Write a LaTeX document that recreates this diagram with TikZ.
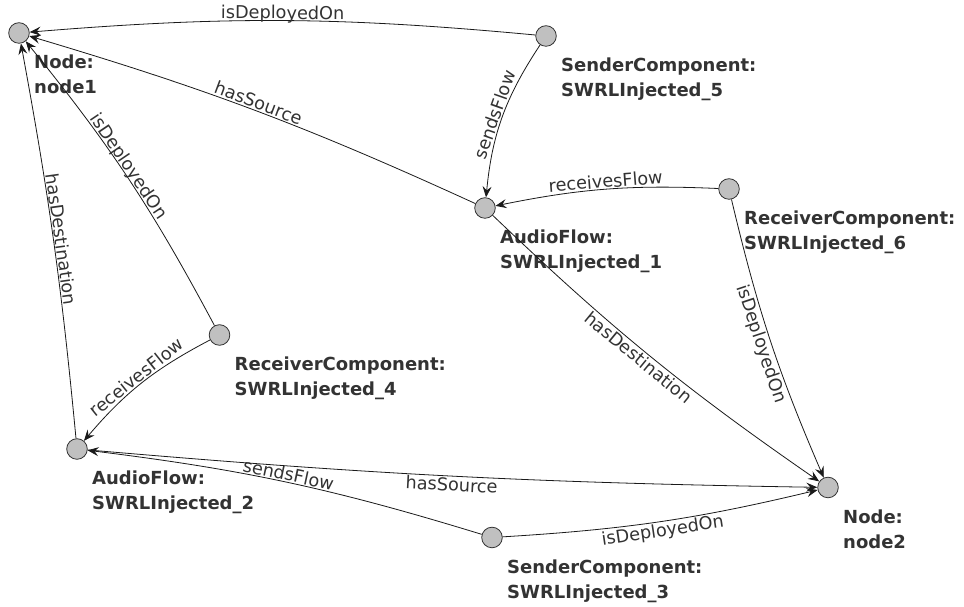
\documentclass[tikz,border=0pt]{standalone}
\usepackage{fontspec}
\setmainfont{DejaVu Sans}
\usetikzlibrary{arrows.meta}
\definecolor{txtgray}{HTML}{333333}
\definecolor{dotgray}{HTML}{C0C0C0}
\definecolor{linegray}{HTML}{1A1A1A}
\begin{document}
\begin{tikzpicture}[x=1pt,y=1pt,
  dot/.style={circle, minimum size=20.6pt, inner sep=0pt, fill=dotgray, draw=txtgray, line width=0.8pt},
  ttl/.style={anchor=north west, inner sep=0pt, align=left, text=txtgray, font=\bfseries\fontsize{18}{25}\selectfont},
  rel/.style={draw=linegray, line width=0.8pt, -{Stealth[length=11pt,width=9pt,inset=4pt]}},
  elbl/.style={sloped, inner sep=1.2pt, text=txtgray, font=\fontsize{17.7}{20}\selectfont},
  ab/.style={elbl, above, text depth=0pt},
  bl/.style={elbl, below}
]
\fill[white] (0,0) rectangle (964,607);
\useasboundingbox (0,0) rectangle (964,607);

% nodes
\node[dot] (n1)  at (19,574) {};
\node[dot] (s5)  at (546,571) {};
\node[dot] (af1) at (485,399) {};
\node[dot] (r6)  at (729,418) {};
\node[dot] (r4)  at (219.5,272) {};
\node[dot] (af2) at (77,158) {};
\node[dot] (n2)  at (828,119.5) {};
\node[dot] (s3)  at (492,69.5) {};

% titles
\node[ttl] (n1t)  at (34,552)    {Node:\\node1};
\node[ttl] (s5t)  at (561,549)   {SenderComponent:\\SWRLInjected\_5};
\node[ttl] (af1t) at (500,377)   {AudioFlow:\\SWRLInjected\_1};
\node[ttl] (r6t)  at (744,396)   {ReceiverComponent:\\SWRLInjected\_6};
\node[ttl] (r4t)  at (234.5,250) {ReceiverComponent:\\SWRLInjected\_4};
\node[ttl] (af2t) at (92,136)    {AudioFlow:\\SWRLInjected\_2};
\node[ttl] (n2t)  at (843,97.5)  {Node:\\node2};
\node[ttl] (s3t)  at (507,47.5)  {SenderComponent:\\SWRLInjected\_3};

% connectors
\draw[rel] (s5)  to[bend right=5]   node[ab] {isDeployedOn} (n1);
\draw[rel] (af1) to[bend right=4]   node[ab] {hasSource} (n1);
\draw[rel] (s5)  to[bend right=14]  node[ab] {sendsFlow} (af1);
\draw[rel] (r6)  to[bend right=7]   node[ab] {receivesFlow} (af1);
\draw[rel] (r4)  to[bend right=5.5] node[ab, pos=.53] {isDeployedOn} (n1);
\draw[rel] (af2) to[bend right=2.5] node[ab] {hasDestination} (n1);
\draw[rel] (r4)  to[bend right=11]  node[ab] {receivesFlow} (af2);
\draw[rel] (s3)  to[bend right=5]   node[ab] {sendsFlow} (af2);
\draw[rel] (af1) to[bend right=4.5] node[bl, pos=.48] {hasDestination} (n2);
\draw[rel] (r6)  to[bend right=5]   node[bl] {isDeployedOn} (n2);
\draw[rel] (af2) to[bend right=2]   node[bl] {hasSource} (n2);
\draw[rel] (s3)  to[bend right=5]   node[bl] {isDeployedOn} (n2);
\end{tikzpicture}
\end{document}
